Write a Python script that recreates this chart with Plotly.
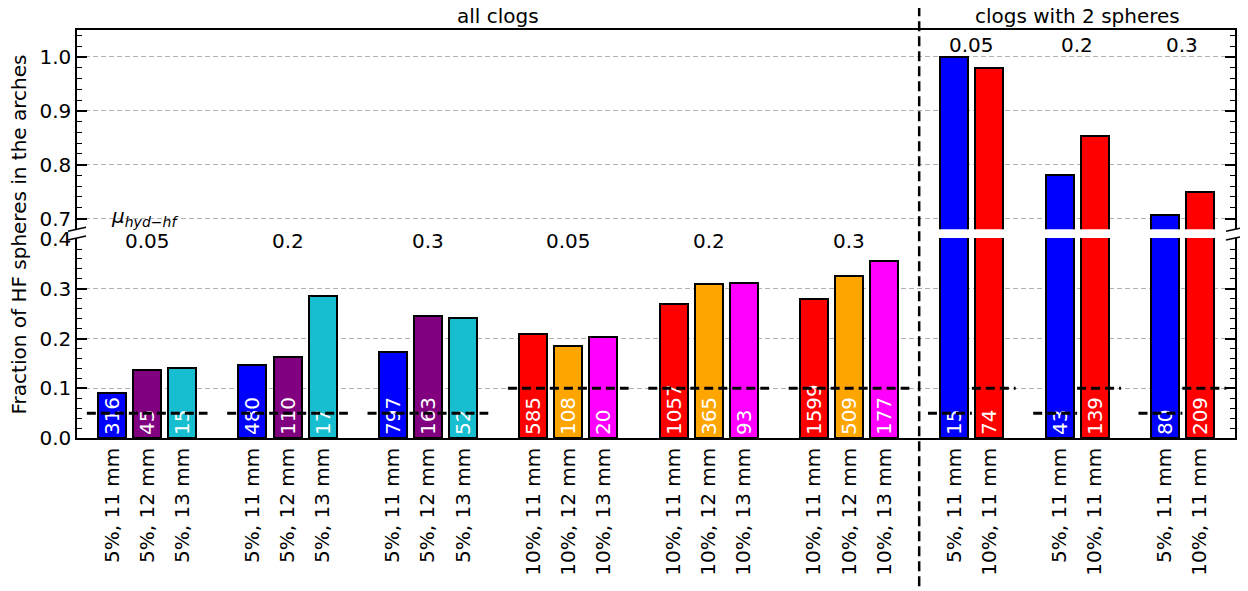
import plotly.graph_objects as go

# data
# left part: all clogs, 6 groups of 3 bars
left_conc = ["5%"] * 9 + ["10%"] * 9
left_size = ["11 mm", "12 mm", "13 mm"] * 6
left_frac = [0.091, 0.137, 0.141, 0.147, 0.163, 0.285, 0.173, 0.246, 0.242,
             0.208, 0.184, 0.203, 0.270, 0.309, 0.312, 0.279, 0.325, 0.356]
left_counts = [316, 45, 15, 480, 110, 17, 797, 163, 52,
               585, 108, 20, 1057, 365, 93, 1599, 509, 177]
left_mu = ["0.05", "0.2", "0.3", "0.05", "0.2", "0.3"]

# right part: clogs with 2 spheres, 3 groups of 2 bars
right_conc = ["5%", "10%"] * 3
right_size = ["11 mm"] * 6
right_frac = [1.0, 0.98, 0.78, 0.853, 0.707, 0.749]
right_counts = [15, 74, 43, 139, 80, 209]
right_mu = ["0.05", "0.2", "0.3"]

conc_value = {"5%": 0.05, "10%": 0.1}
colors = {("5%", "11 mm"): "#0000ff", ("5%", "12 mm"): "#800080", ("5%", "13 mm"): "#17becf",
          ("10%", "11 mm"): "#ff0000", ("10%", "12 mm"): "#ffa500", ("10%", "13 mm"): "#ff00ff"}

font = "DejaVu Sans"

# bar positions (one empty slot between groups)
left_x = [4 * g + i for g in range(6) for i in range(3)]
right_x = [24 + 3 * g + i for g in range(3) for i in range(2)]
all_x = left_x + right_x
all_frac = left_frac + right_frac
all_counts = left_counts + right_counts
all_conc = left_conc + right_conc
all_size = left_size + right_size
all_labels = [c + ", " + s for c, s in zip(all_conc, all_size)]
all_colors = [colors[(c, s)] for c, s in zip(all_conc, all_size)]

xmin, xmax = -1, 32
divider = (left_x[-1] + right_x[0]) / 2

fig = go.Figure()

bar_style = dict(width=0.8, marker=dict(color=all_colors, line=dict(color="black", width=2)),
                 showlegend=False, hoverinfo="skip")

# bottom panel
fig.add_trace(go.Bar(x=all_x, y=all_frac, text=[str(c) for c in all_counts],
                     textposition="inside", insidetextanchor="start", textangle=-90,
                     constraintext="none",
                     textfont=dict(color="white", size=20, family=font),
                     xaxis="x", yaxis="y", **bar_style))
# top panel
fig.add_trace(go.Bar(x=all_x, y=all_frac, xaxis="x2", yaxis="y2", **bar_style))

# dashed reference lines = sphere concentration
lx, ly = [], []
for g in range(6):
    xs = left_x[3 * g:3 * g + 3]
    v = conc_value[left_conc[3 * g]]
    lx += [xs[0] - 0.72, xs[-1] + 0.72, None]
    ly += [v, v, None]
for g in range(3):
    c = (right_x[2 * g] + right_x[2 * g + 1]) / 2
    v1 = conc_value[right_conc[2 * g]]
    v2 = conc_value[right_conc[2 * g + 1]]
    lx += [c - 1.25, c, None, c, c + 1.25, None]
    ly += [v1, v1, None, v2, v2, None]
fig.add_trace(go.Scatter(x=lx, y=ly, mode="lines", xaxis="x", yaxis="y",
                         line=dict(color="black", width=3, dash="9px,5px"),
                         showlegend=False, hoverinfo="skip"))

ann = []
for g in range(6):
    ann.append(dict(x=left_x[3 * g + 1], y=0.396, xref="x", yref="y", text=left_mu[g],
                    showarrow=False, font=dict(size=20, color="black", family=font)))
for g in range(3):
    c = (right_x[2 * g] + right_x[2 * g + 1]) / 2
    ann.append(dict(x=c, y=1.022, xref="x2", yref="y2", text=right_mu[g],
                    showarrow=False, font=dict(size=20, color="black", family=font)))
ann.append(dict(x=left_x[1] - 0.07, y=0.703, xref="x2", yref="y2",
                text="<i>μ</i><sub><i>hyd\u2212hf</i></sub>",
                showarrow=False, font=dict(size=20, color="black", family=font)))
ann.append(dict(x=(xmin + divider) / 2, y=1, xref="x", yref="paper", yanchor="bottom",
                text="all clogs", showarrow=False, font=dict(size=20, color="black", family=font)))
ann.append(dict(x=(divider + xmax) / 2, y=1, xref="x", yref="paper", yanchor="bottom",
                text="clogs with 2 spheres", showarrow=False,
                font=dict(size=20, color="black", family=font)))
ann.append(dict(x=-0.0497, y=0.5, xref="paper", yref="paper", textangle=-90,
                xanchor="center", yanchor="middle",
                text="Fraction of HF spheres in the arches", showarrow=False,
                font=dict(size=20, color="black", family=font)))

# broken-axis marks and divider
bot_top, top_bot = 0.490, 0.5115
dx, dy = 0.0078, 0.0049
shapes = []
for xp in (0, 1):
    for yp in (bot_top, top_bot):
        shapes.append(dict(type="line", xref="paper", yref="paper",
                           x0=xp - dx, x1=xp + dx, y0=yp - dy, y1=yp + dy,
                           line=dict(color="black", width=1.5)))
xd = (divider - xmin) / (xmax - xmin)
shapes.append(dict(type="line", xref="paper", yref="paper", x0=xd, x1=xd, y0=-0.4, y1=1.1,
                   line=dict(color="black", width=2.5, dash="10px,5px")))

yax = dict(showline=True, linecolor="black", linewidth=1.5, mirror="ticks",
           ticks="inside", ticklen=10, tickwidth=1.5, tickcolor="black",
           minor=dict(ticks="inside", ticklen=5, tickwidth=1, tickcolor="black", dtick=0.02, tick0=0),
           showgrid=True, gridcolor="#b0b0b0", griddash="5px,3px", gridwidth=1,
           zeroline=False, tickformat=".1f", automargin=False,
           tickfont=dict(size=20, color="black", family=font))

# page body has an 8px margin, so the figure is a bit smaller than the window
fig.update_layout(
    width=1240, height=583,
    margin=dict(l=69, r=13, t=22, b=153),
    plot_bgcolor="white", paper_bgcolor="white",
    bargap=0,
    font=dict(family=font, color="black"),
    xaxis=dict(domain=[0, 1], anchor="y", range=[xmin, xmax], tickvals=all_x, ticktext=all_labels,
               tickangle=-90, ticks="", showline=True, linecolor="black", linewidth=1.5,
               showgrid=False, zeroline=False, automargin=False,
               tickfont=dict(size=20, color="black", family=font)),
    xaxis2=dict(domain=[0, 1], anchor="y2", range=[xmin, xmax], matches="x", side="top",
                showticklabels=False, ticks="", showline=True, linecolor="black", linewidth=1.5,
                showgrid=False, zeroline=False, automargin=False),
    yaxis=dict(domain=[0, bot_top], anchor="x", range=[0, 0.402],
               tickvals=[0, 0.1, 0.2, 0.3, 0.4], **yax),
    yaxis2=dict(domain=[top_bot, 1], anchor="x2", range=[0.68, 1.05],
                tickvals=[0.7, 0.8, 0.9, 1.0], **yax),
    annotations=ann,
    shapes=shapes,
)

fig.write_html("out.html")
